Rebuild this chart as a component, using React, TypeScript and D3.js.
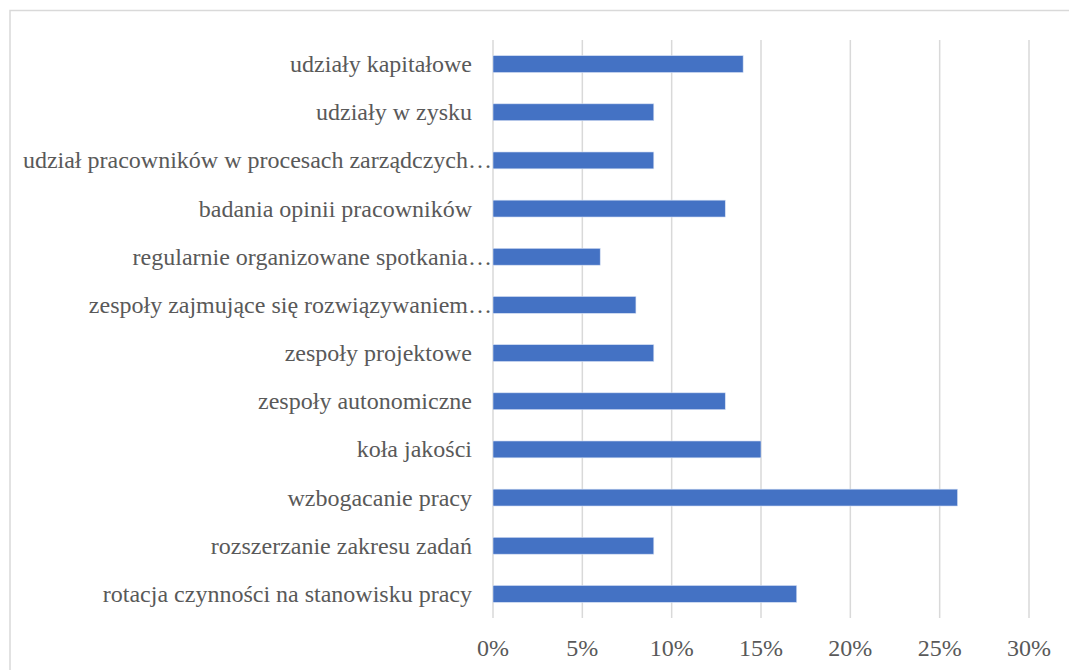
import React from "react";
import * as d3 from "d3";

// Categories, top to bottom
const categories: string[] = [
  "udziały kapitałowe",
  "udziały w zysku",
  "udział pracowników w procesach zarządczych…",
  "badania opinii pracowników",
  "regularnie organizowane spotkania…",
  "zespoły zajmujące się rozwiązywaniem…",
  "zespoły projektowe",
  "zespoły autonomiczne",
  "koła jakości",
  "wzbogacanie pracy",
  "rozszerzanie zakresu zadań",
  "rotacja czynności na stanowisku pracy",
];

// Share of responses (%)
const values: number[] = [14, 9, 9, 13, 6, 8, 9, 13, 15, 26, 9, 17];

const ticks: number[] = [0, 5, 10, 15, 20, 25, 30];

const W = 1069;
const H = 670;
const x0 = 493;
const x1 = 1029;
const yTop = 40;
const yBottom = 618;

export default function App() {
  const x = d3.scaleLinear().domain([0, 30]).range([x0, x1]);
  const y = d3
    .scaleBand<string>()
    .domain(categories)
    .range([yTop, yBottom])
    .paddingInner(0.65)
    .paddingOuter(0.325);

  const textStyle: React.CSSProperties = {
    fontFamily: '"Liberation Serif"',
    fontSize: "24px",
  };
  const textColor = "#595959";

  return (
    <svg
      width={W}
      height={H}
      style={{ position: "absolute", left: 0, top: 0, background: "#fff" }}
    >
      <rect x={10} y={10.5} width={W + 10} height={H + 10} fill="#fff" stroke="#d9d9d9" strokeWidth={1.5} />
      {ticks.map((t) => (
        <line
          key={t}
          x1={x(t)}
          x2={x(t)}
          y1={yTop}
          y2={yBottom}
          stroke="#d9d9d9"
          strokeWidth={1.5}
        />
      ))}
      {categories.map((c, i) => (
        <rect
          key={c}
          x={x(0)}
          y={y(c)!}
          width={x(values[i]) - x(0)}
          height={y.bandwidth()}
          fill="#4472C4"
          stroke="#d6e0f3"
          strokeWidth={0.6}
        />
      ))}
      {categories.map((c) => {
        const truncated = c.endsWith("…");
        return (
          <text
            key={"l" + c}
            x={truncated ? x0 - 1 : x0 - 21}
            y={y(c)! + y.bandwidth() / 2}
            dy="0.33em"
            textAnchor="end"
            style={textStyle}
            fill={textColor}
          >
            {c}
          </text>
        );
      })}
      {ticks.map((t) => (
        <text
          key={"t" + t}
          x={x(t)}
          y={648}
          dy="0.33em"
          textAnchor="middle"
          style={textStyle}
          fill={textColor}
        >
          {t + "%"}
        </text>
      ))}
    </svg>
  );
}
